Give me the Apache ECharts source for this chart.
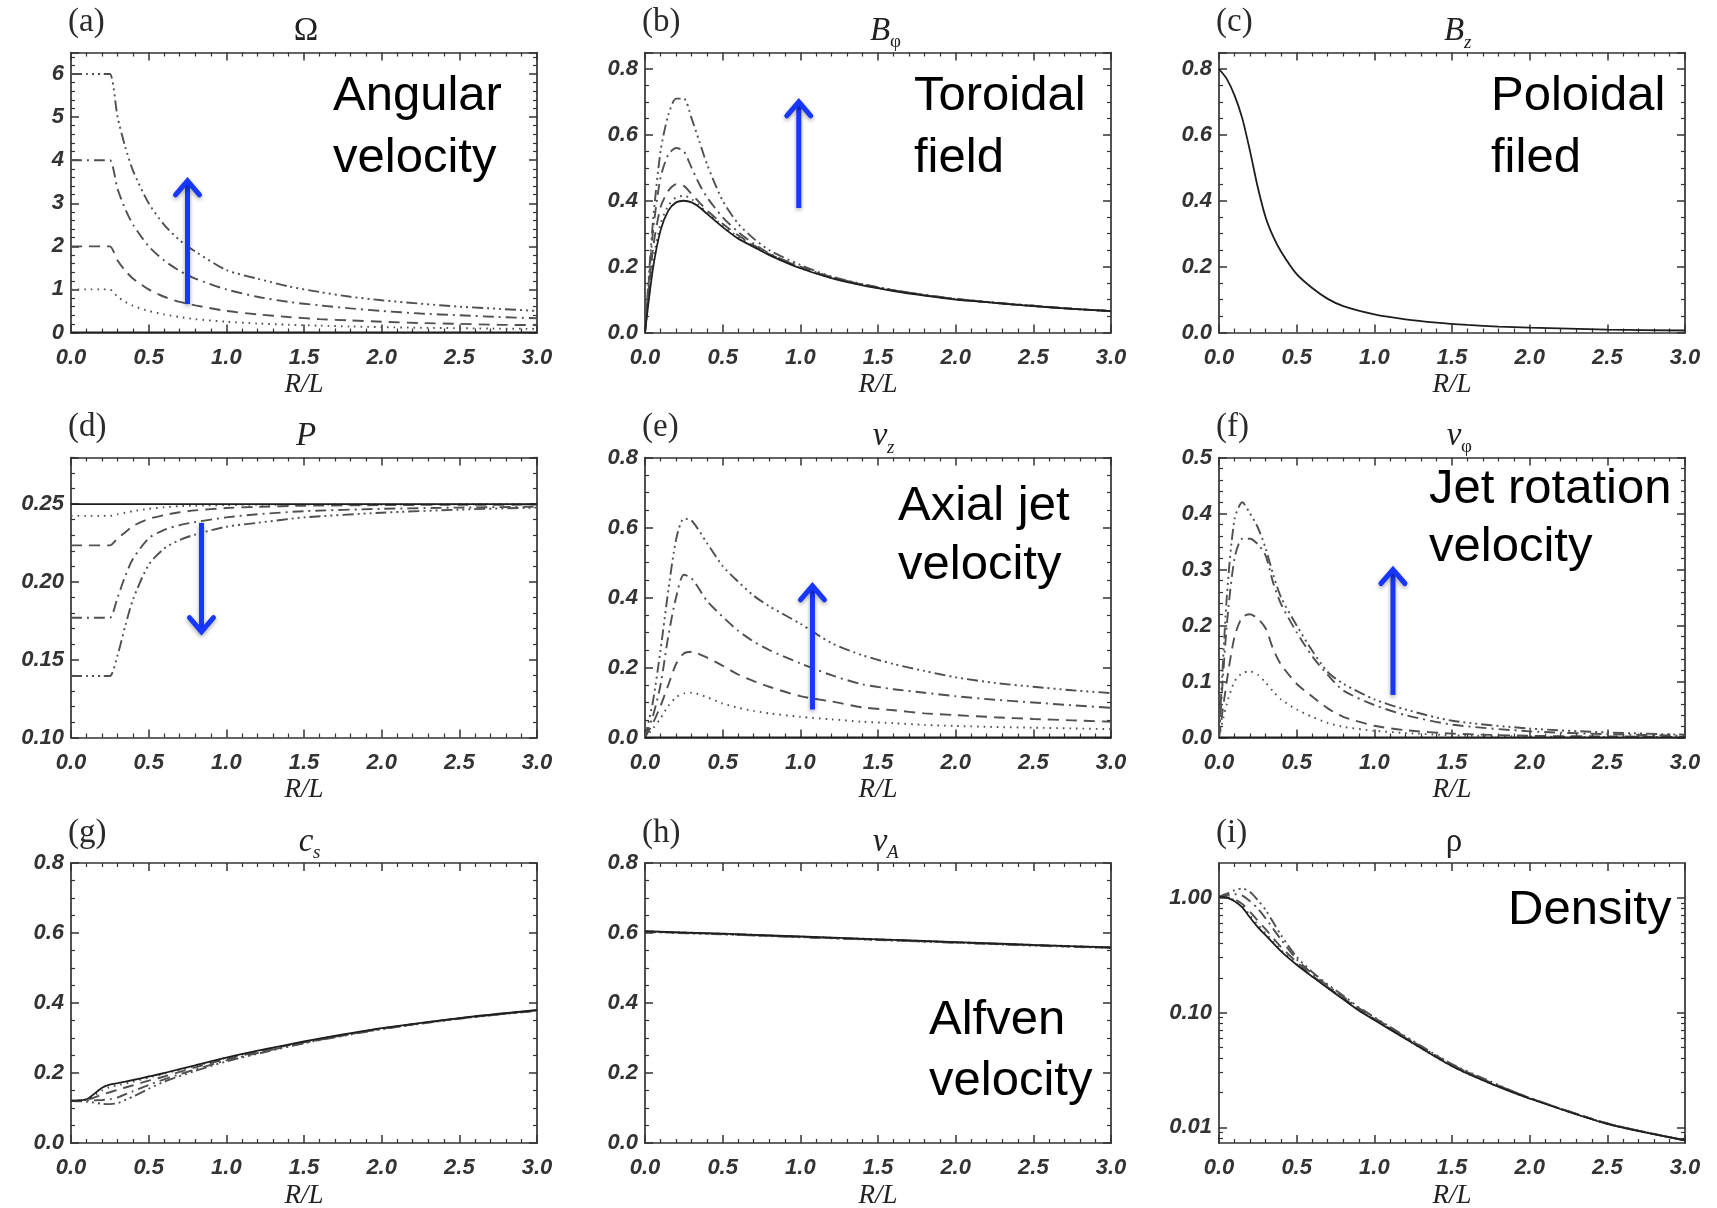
<!DOCTYPE html>
<html><head><meta charset="utf-8">
<script src="https://cdn.jsdelivr.net/npm/echarts@6/dist/echarts.min.js"></script>
<style>html,body{margin:0;padding:0;background:#fff}#c{width:1717px;height:1208px}</style>
</head><body><div id="c"></div>
<script>
// ---------------- data ----------------
// (a) Omega
const R_OMEGA = [0, 0.1, 0.2, 0.25, 0.3, 0.35, 0.4, 0.5, 0.6, 0.7, 0.8, 1.0, 1.2, 1.4, 1.6, 1.8, 2.0, 2.25, 2.5, 2.75, 3.0];
const OMEGA_0 = [0,0,0,0,0,0,0,0,0,0,0,0,0,0,0,0,0,0,0,0,0];
const OMEGA_1 = [1,1,1,1,0.83,0.71,0.62,0.5,0.42,0.36,0.31,0.25,0.21,0.18,0.16,0.14,0.125,0.11,0.1,0.09,0.083];
const OMEGA_2 = [2,2,2,2,1.67,1.43,1.25,1.0,0.83,0.71,0.63,0.5,0.42,0.36,0.31,0.28,0.25,0.22,0.2,0.18,0.17];
const OMEGA_4 = [4,4,4,4,3.33,2.86,2.5,2.0,1.67,1.43,1.25,1.0,0.83,0.71,0.63,0.56,0.5,0.44,0.4,0.36,0.33];
const OMEGA_6 = [6,6,6,6,5.0,4.3,3.75,3.0,2.5,2.14,1.88,1.45,1.25,1.07,0.94,0.83,0.75,0.67,0.6,0.55,0.5];
// (b) B_phi
const R_BPHI = [0, 0.05, 0.1, 0.15, 0.2, 0.25, 0.3, 0.35, 0.4, 0.5, 0.6, 0.7, 0.8, 1.0, 1.2, 1.4, 1.6, 1.8, 2.0, 2.25, 2.5, 2.75, 3.0];
const BPHI_0 = [0, 0.19, 0.31, 0.37, 0.395, 0.40, 0.395, 0.38, 0.36, 0.32, 0.285, 0.26, 0.235, 0.195, 0.165, 0.143, 0.126, 0.112, 0.1, 0.09, 0.08, 0.072, 0.065];
const BPHI_1 = [0, 0.21, 0.33, 0.385, 0.41, 0.415, 0.405, 0.385, 0.365, 0.325, 0.29, 0.262, 0.236, 0.196, 0.166, 0.144, 0.127, 0.113, 0.101, 0.09, 0.08, 0.072, 0.065];
const BPHI_2 = [0, 0.25, 0.38, 0.43, 0.45, 0.445, 0.42, 0.395, 0.37, 0.33, 0.295, 0.265, 0.238, 0.198, 0.167, 0.145, 0.128, 0.113, 0.102, 0.09, 0.081, 0.072, 0.065];
const BPHI_4 = [0, 0.30, 0.47, 0.54, 0.56, 0.55, 0.50, 0.45, 0.41, 0.35, 0.305, 0.27, 0.24, 0.2, 0.168, 0.146, 0.128, 0.114, 0.102, 0.09, 0.081, 0.072, 0.065];
const BPHI_6 = [0, 0.33, 0.55, 0.66, 0.71, 0.71, 0.65, 0.58, 0.51, 0.40, 0.33, 0.285, 0.25, 0.205, 0.17, 0.147, 0.129, 0.114, 0.102, 0.091, 0.081, 0.072, 0.065];
// (c) B_z
const R_BZ = [0, 0.05, 0.1, 0.15, 0.2, 0.25, 0.3, 0.35, 0.4, 0.5, 0.6, 0.7, 0.8, 1.0, 1.2, 1.4, 1.6, 1.8, 2.0, 2.5, 3.0];
const BZ_0 = [0.80, 0.77, 0.72, 0.65, 0.55, 0.44, 0.35, 0.29, 0.245, 0.177, 0.135, 0.102, 0.08, 0.055, 0.04, 0.03, 0.023, 0.018, 0.015, 0.009, 0.006];
// (d) P
const R_P = [0, 0.1, 0.2, 0.25, 0.3, 0.35, 0.4, 0.5, 0.6, 0.7, 0.8, 1.0, 1.2, 1.5, 2.0, 2.5, 3.0];
const P_0 = [0.25,0.25,0.25,0.25,0.25,0.25,0.25,0.25,0.25,0.25,0.25,0.25,0.25,0.25,0.25,0.25,0.25];
const P_1 = [0.2425, 0.2425, 0.2425, 0.2425, 0.2435, 0.2445, 0.2455, 0.247, 0.248, 0.2487, 0.249, 0.2494, 0.2496, 0.2497, 0.2498, 0.2499, 0.2499];
const P_2 = [0.2235, 0.2235, 0.2235, 0.2235, 0.228, 0.232, 0.236, 0.2405, 0.243, 0.2448, 0.246, 0.2475, 0.2483, 0.249, 0.2494, 0.2496, 0.2497];
const P_4 = [0.177, 0.177, 0.177, 0.177, 0.19, 0.204, 0.215, 0.228, 0.2335, 0.2365, 0.2385, 0.2415, 0.2435, 0.2455, 0.247, 0.2478, 0.2484];
const P_6 = [0.1395, 0.1395, 0.1395, 0.1395, 0.153, 0.172, 0.189, 0.211, 0.2215, 0.227, 0.2305, 0.2355, 0.238, 0.2415, 0.2445, 0.2465, 0.2478];
// (e) v_z
const R_VZ = [0, 0.05, 0.1, 0.15, 0.2, 0.25, 0.3, 0.4, 0.5, 0.6, 0.7, 0.8, 1.0, 1.2, 1.4, 1.6, 1.8, 2.0, 2.25, 2.5, 2.75, 3.0];
const VZ_0 = [0,0,0,0,0,0,0,0,0,0,0,0,0,0,0,0,0,0,0,0,0,0];
const VZ_1 = [0, 0.025, 0.055, 0.09, 0.115, 0.126, 0.128, 0.115, 0.097, 0.085, 0.076, 0.069, 0.059, 0.052, 0.045, 0.041, 0.036, 0.033, 0.03, 0.028, 0.026, 0.024];
const VZ_2 = [0, 0.04, 0.09, 0.15, 0.21, 0.24, 0.245, 0.228, 0.205, 0.18, 0.161, 0.145, 0.118, 0.103, 0.086, 0.078, 0.069, 0.064, 0.058, 0.053, 0.049, 0.045];
const VZ_4 = [0, 0.06, 0.15, 0.29, 0.40, 0.465, 0.455, 0.39, 0.345, 0.305, 0.274, 0.25, 0.212, 0.178, 0.152, 0.138, 0.128, 0.118, 0.108, 0.1, 0.092, 0.085];
const VZ_6 = [0, 0.1, 0.25, 0.42, 0.565, 0.625, 0.62, 0.555, 0.49, 0.445, 0.405, 0.375, 0.325, 0.27, 0.235, 0.21, 0.19, 0.172, 0.156, 0.145, 0.135, 0.127];
// (f) v_phi
const R_VPHI = [0, 0.05, 0.1, 0.15, 0.2, 0.25, 0.3, 0.35, 0.4, 0.5, 0.6, 0.7, 0.8, 1.0, 1.2, 1.5, 2.0, 2.5, 3.0];
const VPHI_0 = [0,0,0,0,0,0,0,0,0,0,0,0,0,0,0,0,0,0,0];
const VPHI_1 = [0, 0.06, 0.1, 0.115, 0.118, 0.112, 0.098, 0.082, 0.068, 0.05, 0.037, 0.026, 0.019, 0.012, 0.008, 0.004, 0.002, 0.001, 0.001];
const VPHI_2 = [0, 0.1, 0.18, 0.215, 0.22, 0.212, 0.195, 0.157, 0.13, 0.096, 0.073, 0.052, 0.037, 0.021, 0.013, 0.007, 0.003, 0.002, 0.001];
const VPHI_4 = [0, 0.2, 0.32, 0.355, 0.355, 0.345, 0.325, 0.275, 0.238, 0.188, 0.145, 0.112, 0.084, 0.058, 0.04, 0.023, 0.011, 0.006, 0.003];
const VPHI_6 = [0, 0.25, 0.39, 0.42, 0.40, 0.375, 0.338, 0.29, 0.25, 0.2, 0.155, 0.117, 0.096, 0.068, 0.05, 0.03, 0.016, 0.009, 0.005];
// (g) c_s
const R_CS = [0, 0.1, 0.2, 0.25, 0.3, 0.4, 0.5, 0.6, 0.8, 1.0, 1.25, 1.5, 1.75, 2.0, 2.5, 3.0];
const CS_0 = [0.121, 0.125, 0.158, 0.167, 0.171, 0.18, 0.19, 0.2, 0.222, 0.244, 0.268, 0.29, 0.31, 0.328, 0.357, 0.38];
const CS_1 = [0.121, 0.124, 0.15, 0.16, 0.165, 0.175, 0.187, 0.198, 0.22, 0.243, 0.267, 0.289, 0.309, 0.327, 0.356, 0.379];
const CS_2 = [0.121, 0.123, 0.138, 0.145, 0.152, 0.165, 0.178, 0.19, 0.216, 0.24, 0.265, 0.288, 0.308, 0.327, 0.356, 0.379];
const CS_4 = [0.12, 0.121, 0.123, 0.125, 0.13, 0.148, 0.166, 0.182, 0.21, 0.236, 0.262, 0.286, 0.307, 0.326, 0.356, 0.378];
const CS_6 = [0.12, 0.118, 0.112, 0.111, 0.114, 0.133, 0.155, 0.175, 0.206, 0.233, 0.26, 0.285, 0.306, 0.325, 0.355, 0.378];
// (h) v_A
const R_VA = [0, 0.5, 1.0, 1.5, 2.0, 2.5, 3.0];
const VA_0 = [0.605, 0.598, 0.59, 0.582, 0.574, 0.566, 0.559];
const VA_1 = [0.605, 0.598, 0.59, 0.582, 0.574, 0.566, 0.559];
const VA_2 = [0.604, 0.597, 0.589, 0.581, 0.573, 0.565, 0.558];
const VA_4 = [0.604, 0.597, 0.589, 0.581, 0.573, 0.565, 0.558];
const VA_6 = [0.603, 0.596, 0.588, 0.58, 0.572, 0.564, 0.557];
// (i) rho (log axis)
const R_RHO = [0, 0.05, 0.1, 0.15, 0.2, 0.25, 0.3, 0.4, 0.5, 0.6, 0.7, 0.8, 0.9, 1.0, 1.2, 1.5, 1.75, 2.0, 2.5, 3.0];
const RHO_0 = [1.02, 1.0, 0.93, 0.82, 0.67, 0.553, 0.47, 0.34, 0.26, 0.205, 0.163, 0.13, 0.104, 0.086, 0.059, 0.034, 0.024, 0.0178, 0.0107, 0.0077];
const RHO_1 = [1.02, 1.0, 0.95, 0.85, 0.70, 0.58, 0.49, 0.35, 0.265, 0.206, 0.164, 0.131, 0.105, 0.087, 0.059, 0.034, 0.024, 0.0178, 0.0107, 0.0077];
const RHO_2 = [1.02, 1.01, 0.97, 0.88, 0.75, 0.63, 0.53, 0.37, 0.275, 0.21, 0.166, 0.133, 0.107, 0.088, 0.06, 0.035, 0.0245, 0.018, 0.0108, 0.0077];
const RHO_4 = [1.02, 1.05, 1.07, 1.04, 0.93, 0.80, 0.66, 0.43, 0.29, 0.218, 0.171, 0.137, 0.109, 0.09, 0.061, 0.035, 0.0245, 0.018, 0.0108, 0.0077];
const RHO_6 = [1.02, 1.08, 1.16, 1.20, 1.12, 0.95, 0.78, 0.47, 0.305, 0.225, 0.175, 0.14, 0.111, 0.091, 0.062, 0.0355, 0.025, 0.018, 0.0108, 0.0077];

// tick values
const X_TICK_STEP = 0.5;
const LOG_MAJOR = [0.01, 0.1, 1];
const LOG_MINOR = [0.008, 0.009, 0.02, 0.03, 0.04, 0.05, 0.06, 0.07, 0.08, 0.09, 0.2, 0.3, 0.4, 0.5, 0.6, 0.7, 0.8, 0.9];

// ---------------- layout & style ----------------
const GL = [71, 645, 1219], GT = [52.5, 457.5, 863], GW = 466, GH = 280;
const AX = '#333';
const LINE_TYPES = ['solid', [1.6, 5], [11, 7], [11, 5, 2, 5], [11, 4, 2, 4, 2, 4, 2, 4]];
const LINE_COLORS = ['#1e1e1e', '#505050', '#505050', '#505050', '#505050'];

const PANELS = [
  {letter:'(a)', main:'Ω', mainItalic:false, sub:'', ymin:0, ymax:6.5, yint:1, ysplit:5, dec:0, hideMax:true,
   x:R_OMEGA, ys:[OMEGA_0, OMEGA_1, OMEGA_2, OMEGA_4, OMEGA_6]},
  {letter:'(b)', main:'B', mainItalic:true, sub:'φ', subItalic:false, ymin:0, ymax:0.85, yint:0.2, ysplit:4, dec:1, hideMax:true,
   x:R_BPHI, ys:[BPHI_1, BPHI_2, BPHI_4, BPHI_6, BPHI_0], order:[1,2,3,4,0]},
  {letter:'(c)', main:'B', mainItalic:true, sub:'z', subItalic:true, ymin:0, ymax:0.85, yint:0.2, ysplit:4, dec:1, hideMax:true,
   x:R_BZ, ys:[BZ_0]},
  {letter:'(d)', main:'P', mainItalic:true, sub:'', ymin:0.10, ymax:0.28, yint:0.05, ysplit:5, dec:2, hideMax:true,
   x:R_P, ys:[P_0, P_1, P_2, P_4, P_6]},
  {letter:'(e)', main:'v', mainItalic:true, sub:'z', subItalic:true, ymin:0, ymax:0.8, yint:0.2, ysplit:4, dec:1, hideMax:false,
   x:R_VZ, ys:[VZ_0, VZ_1, VZ_2, VZ_4, VZ_6]},
  {letter:'(f)', main:'v', mainItalic:true, sub:'φ', subItalic:false, ymin:0, ymax:0.5, yint:0.1, ysplit:5, dec:1, hideMax:false,
   x:R_VPHI, ys:[VPHI_0, VPHI_1, VPHI_2, VPHI_4, VPHI_6]},
  {letter:'(g)', main:'c', mainItalic:true, sub:'s', subItalic:true, ymin:0, ymax:0.8, yint:0.2, ysplit:4, dec:1, hideMax:false,
   x:R_CS, ys:[CS_0, CS_1, CS_2, CS_4, CS_6]},
  {letter:'(h)', main:'v', mainItalic:true, sub:'A', subItalic:true, ymin:0, ymax:0.8, yint:0.2, ysplit:4, dec:1, hideMax:false,
   x:R_VA, ys:[VA_0, VA_1, VA_2, VA_4, VA_6]},
  {letter:'(i)', main:'ρ', mainItalic:false, sub:'', log:true, ymin:0.0073, ymax:2.0, dec:2,
   x:R_RHO, ys:[RHO_0, RHO_1, RHO_2, RHO_4, RHO_6]}
];

const ARROWS = [
  {panel:0, from:[0.75, 0.66], to:[0.75, 3.52]},
  {panel:1, from:[0.99, 0.378], to:[0.99, 0.70]},
  {panel:3, from:[0.84, 0.238], to:[0.84, 0.168]},
  {panel:4, from:[1.078, 0.08], to:[1.078, 0.433]},
  {panel:5, from:[1.12, 0.076], to:[1.12, 0.30]}
];
const NOTES = [
  {panel:0, lines:['Angular','velocity'], dx:262, base:[60.5,122.5]},
  {panel:1, lines:['Toroidal','field'], dx:269, base:[60.5,122.5]},
  {panel:2, lines:['Poloidal','filed'], dx:272, base:[60.5,122.5]},
  {panel:4, lines:['Axial jet','velocity'], dx:253, base:[65.5,124.5]},
  {panel:5, lines:['Jet rotation','velocity'], dx:210, base:[48.5,106.5]},
  {panel:7, lines:['Alfven','velocity'], dx:284, base:[174,235]},
  {panel:8, lines:['Density'], dx:289, base:[64]}
];

// ---------------- build option ----------------
const labelStyle = {color:'#333', fontFamily:'Liberation Sans', fontSize:22, fontStyle:'italic', fontWeight:'bold'};
const grids = [], xAxes = [], yAxes = [], series = [];

function gridRect(i){ return {left: GL[i%3], top: GT[Math.floor(i/3)]}; }

PANELS.forEach((p, i) => {
  const r = gridRect(i);
  grids.push({left:r.left, top:r.top, width:GW, height:GH, containLabel:false, outerBoundsMode:'none'});
  ['bottom','top'].forEach(pos => {
    const b = pos === 'bottom';
    xAxes.push({
      type:'value', gridIndex:i, position:pos, min:0, max:3, interval:X_TICK_STEP,
      axisLine:{show:true, onZero:false, lineStyle:{color:AX, width:1.7}},
      axisTick:{show:true, inside:true, length:8, lineStyle:{color:AX, width:1.5}},
      minorTick:{show:true, splitNumber:5, length:4, lineStyle:{color:AX, width:1.2}},
      splitLine:{show:false}, minorSplitLine:{show:false},
      axisLabel: b ? Object.assign({show:true, interval:0, margin:14, formatter:v => v.toFixed(1)}, labelStyle) : {show:false},
      name: b ? 'R/L' : '', nameLocation:'middle', nameGap:39,
      nameTextStyle:{fontFamily:'Liberation Serif', fontStyle:'italic', fontSize:27, color:'#222'}
    });
  });
  ['left','right'].forEach(pos => {
    const l = pos === 'left';
    if (p.log) {
      yAxes.push({
        type:'log', logBase:10, gridIndex:i, position:pos, min:p.ymin, max:p.ymax,
        axisLine:{show:true, onZero:false, lineStyle:{color:AX, width:1.7}},
        axisTick:{show:true, inside:true, length:8, customValues:LOG_MAJOR, lineStyle:{color:AX, width:1.5}},
        minorTick:{show:false}, splitLine:{show:false},
        axisLabel: l ? Object.assign({show:true, margin:7, customValues:LOG_MAJOR, formatter:v => v.toFixed(2)}, labelStyle) : {show:false}
      });
    } else {
      yAxes.push({
        type:'value', gridIndex:i, position:pos, min:p.ymin, max:p.ymax, interval:p.yint,
        axisLine:{show:true, onZero:false, lineStyle:{color:AX, width:1.7}},
        axisTick:{show:true, inside:true, length:8, lineStyle:{color:AX, width:1.5}},
        minorTick:{show:true, splitNumber:p.ysplit, length:4, lineStyle:{color:AX, width:1.2}},
        splitLine:{show:false}, minorSplitLine:{show:false},
        axisLabel: l ? Object.assign({show:true, interval:0, margin:7, showMaxLabel: !p.hideMax,
          formatter:v => v.toFixed(p.dec)}, labelStyle) : {show:false}
      });
    }
  });
  const styleIdx = p.order || [0,1,2,3,4];
  p.ys.forEach((ys, k) => {
    const s = styleIdx[k];
    series.push({
      type:'line', xAxisIndex:2*i, yAxisIndex:2*i, showSymbol:false, symbol:'none', smooth:0.25,
      silent:true, animation:false,
      lineStyle:{color:LINE_COLORS[s], width: s === 0 ? 1.8 : 1.9, type:LINE_TYPES[s]},
      data: p.x.map((xv, j) => [xv, ys[j]]),
      z: s === 0 ? 3 : 2
    });
  });
});
// extra overlapping grid for the minor ticks of the log axis
{
  const r = gridRect(8);
  grids.push({left:r.left, top:r.top, width:GW, height:GH, containLabel:false, outerBoundsMode:'none'});
  xAxes.push({type:'value', gridIndex:9, min:0, max:3, show:false});
  ['left','right'].forEach(pos => {
    yAxes.push({type:'log', logBase:10, gridIndex:9, position:pos, min:PANELS[8].ymin, max:PANELS[8].ymax,
      axisLine:{show:false}, axisLabel:{show:false}, splitLine:{show:false}, minorTick:{show:false},
      axisTick:{show:true, inside:true, length:4, customValues:LOG_MINOR, lineStyle:{color:AX, width:1.2}}});
  });
}

const chart = echarts.init(document.getElementById('c'), null, {renderer:'canvas'});
chart.setOption({
  backgroundColor:'#ffffff', animation:false,
  grid:grids, xAxis:xAxes, yAxis:yAxes, series:series
});

// ---------------- annotations ----------------
const graphics = [];
PANELS.forEach((p, i) => {
  const r = gridRect(i);
  const cx = r.left + GW/2 + 2;
  graphics.push({type:'text', silent:true, style:{text:p.letter, x:r.left - 3, y:r.top - 30,
    font:'33px "Liberation Serif"', fill:'#2a2a2a', textAlign:'left', textVerticalAlign:'middle'}});
  graphics.push({type:'text', silent:true, style:{text:p.main, x:cx, y:r.top - 21,
    font:(p.mainItalic ? 'italic ' : '') + '33px "Liberation Serif"', fill:'#222', textAlign:'center', textVerticalAlign:'middle'}});
  if (p.sub) {
    const half = p.main === 'B' ? 10 : 7;
    graphics.push({type:'text', silent:true, style:{text:p.sub, x:cx + half, y:r.top - 10,
      font:(p.subItalic ? 'italic ' : '') + '19px "Liberation Serif"', fill:'#222', textAlign:'left', textVerticalAlign:'middle'}});
  }
});
NOTES.forEach(n => {
  const r = gridRect(n.panel);
  n.lines.forEach((t, k) => {
    graphics.push({type:'text', silent:true, style:{text:t, x:r.left + n.dx, y:r.top + n.base[k] - 17,
      font:'49px "Liberation Sans"', fill:'#000', textAlign:'left', textVerticalAlign:'middle'}});
  });
});
const BLUE = '#1736ff';
ARROWS.forEach(a => {
  const f = chart.convertToPixel({xAxisIndex:2*a.panel, yAxisIndex:2*a.panel}, a.from);
  const t = chart.convertToPixel({xAxisIndex:2*a.panel, yAxisIndex:2*a.panel}, a.to);
  const dir = t[1] < f[1] ? 1 : -1; // 1 = up
  const sh = {shadowBlur:4, shadowColor:'rgba(0,0,0,0.35)', shadowOffsetY:2};
  graphics.push({type:'line', silent:true, z:50, shape:{x1:f[0], y1:f[1], x2:t[0], y2:t[1] + dir*2},
    style:Object.assign({stroke:BLUE, lineWidth:5, lineCap:'butt'}, sh)});
  graphics.push({type:'polyline', silent:true, z:51, shape:{points:[[t[0]-12, t[1] + dir*14],[t[0], t[1]],[t[0]+12, t[1] + dir*14]]},
    style:Object.assign({stroke:BLUE, lineWidth:5, lineJoin:'miter', lineCap:'round', fill:'none'}, sh)});
});
chart.setOption({graphic:graphics});
</script></body></html>
